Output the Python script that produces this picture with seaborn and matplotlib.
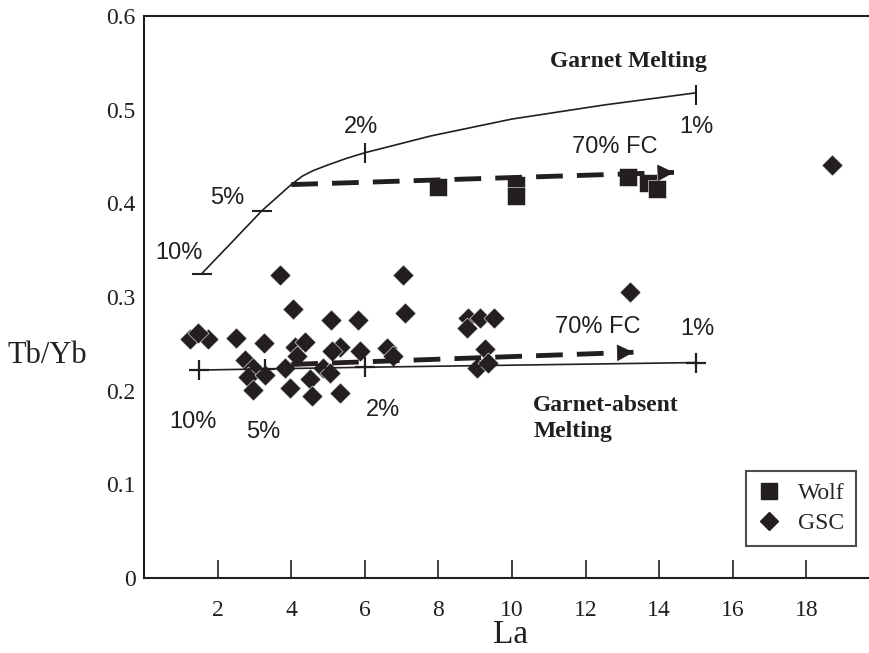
import numpy as np
import pandas as pd
import matplotlib
matplotlib.use("Agg")
import matplotlib.pyplot as plt
from matplotlib.lines import Line2D
import seaborn as sns

# -------- data --------
wolf_la = [8.0, 10.1, 10.1, 13.15, 13.7, 13.95]
wolf_tbyb = [0.417, 0.420, 0.408, 0.428, 0.422, 0.415]

gsc_la = [1.25, 1.74, 1.47, 2.5, 3.26, 3.7, 4.06, 7.04, 7.1, 5.08, 5.82, 4.1, 4.37,
          5.33, 5.1, 5.87, 6.6, 6.77, 2.74, 2.96, 2.83, 3.29, 2.96, 3.83, 4.16, 3.97,
          4.5, 4.56, 4.87, 5.05, 5.33, 8.8, 9.13, 9.5, 8.77, 9.27, 9.05, 9.35, 13.2, 18.7]
gsc_tbyb = [0.255, 0.255, 0.262, 0.256, 0.251, 0.323, 0.287, 0.323, 0.283, 0.275, 0.275,
            0.247, 0.252, 0.247, 0.242, 0.242, 0.246, 0.237, 0.233, 0.224, 0.215, 0.217,
            0.201, 0.224, 0.237, 0.203, 0.212, 0.194, 0.224, 0.219, 0.198, 0.278, 0.278,
            0.278, 0.267, 0.244, 0.224, 0.230, 0.305, 0.441]

# melting curves
garnet_la = [1.57, 2.4, 3.2, 4.0, 4.3, 4.6, 5.0, 5.5, 6.0, 7.8, 10.0, 12.5, 15.0]
garnet_tbyb = [0.325, 0.359, 0.392, 0.420, 0.429, 0.435, 0.441, 0.448, 0.454, 0.472,
               0.490, 0.505, 0.518]
absent_la = [1.5, 6.0, 15.0]
absent_tbyb = [0.222, 0.225, 0.230]

# % melting marks
garnet_pct = ["10%", "5%", "2%", "1%"]
garnet_pct_la = [1.57, 3.2, 6.0, 15.0]
garnet_pct_tbyb = [0.325, 0.392, 0.454, 0.516]
garnet_pct_marker = ["_", "_", "|", "|"]
absent_pct = ["10%", "5%", "2%", "1%"]
absent_pct_la = [1.5, 3.3, 6.0, 15.0]
absent_pct_tbyb = [0.222, 0.223, 0.225, 0.230]

# 70% fractional crystallisation vectors (start, end)
fc_garnet_la = [4.0, 14.4]
fc_garnet_tbyb = [0.420, 0.433]
fc_absent_la = [4.0, 13.3]
fc_absent_tbyb = [0.228, 0.241]

x_ticks = [2, 4, 6, 8, 10, 12, 14, 16, 18]
y_ticks = [0, 0.1, 0.2, 0.3, 0.4, 0.5, 0.6]
# ------------------------------------------

INK = "#231f20"
SERIF = ["Liberation Serif", "DejaVu Serif"]
SANS = ["Liberation Sans", "DejaVu Sans"]

sns.set_style("ticks")
plt.rcParams["font.family"] = SERIF

fig = plt.figure(figsize=(8.69, 6.53), dpi=100)
ax = fig.add_axes([144 / 869, 75 / 653, 1 - 144 / 869, 562 / 653])

# data points
sns.scatterplot(x=gsc_la, y=gsc_tbyb, marker="D", s=115, color=INK,
                edgecolor="white", linewidth=0.4, ax=ax, zorder=3)
sns.scatterplot(x=wolf_la, y=wolf_tbyb, marker="s", s=165, color=INK,
                edgecolor="white", linewidth=0.4, ax=ax, zorder=3)

# melting curves
curves = pd.DataFrame({"La": garnet_la, "TbYb": garnet_tbyb})
sns.lineplot(data=curves, x="La", y="TbYb", sort=False, estimator=None,
             color=INK, lw=1.2, ax=ax, zorder=4)
absent = pd.DataFrame({"La": absent_la, "TbYb": absent_tbyb})
sns.lineplot(data=absent, x="La", y="TbYb", sort=False, estimator=None,
             color=INK, lw=1.2, ax=ax, zorder=4)

for xv, yv, m in zip(garnet_pct_la, garnet_pct_tbyb, garnet_pct_marker):
    ax.plot(xv, yv, marker=m, ms=15, mew=1.5, color=INK, zorder=4)
ax.plot(absent_pct_la, absent_pct_tbyb, ls="none", marker="+", ms=14, mew=1.6,
        color=INK, zorder=4)

# FC vectors: dashed shaft + filled head
for xs, ys in [(fc_garnet_la, fc_garnet_tbyb), (fc_absent_la, fc_absent_tbyb)]:
    ax.plot(xs, ys, color=INK, lw=3.5, ls=(0, (5.5, 2.9)),
            solid_capstyle="butt", dash_capstyle="butt", zorder=5)
    slope = (ys[1] - ys[0]) / (xs[1] - xs[0])
    ax.annotate("", xy=(xs[1], ys[1]), xytext=(xs[1] - 0.4, ys[1] - 0.4 * slope),
                arrowprops=dict(arrowstyle="-|>,head_length=0.55,head_width=0.28",
                                mutation_scale=20, color=INK, lw=0.5,
                                shrinkA=0, shrinkB=0), zorder=5)

# annotations
sans_kw = dict(family=SANS, fontsize=17, color=INK, ha="center", va="center")
ax.text(0.95, 0.347, "10%", **sans_kw)
ax.text(2.25, 0.406, "5%", **sans_kw)
ax.text(5.9, 0.482, "2%", **sans_kw)
ax.text(15.0, 0.481, "1%", **sans_kw)
ax.text(12.8, 0.460, "70% FC", **sans_kw)
ax.text(1.33, 0.167, "10%", **sans_kw)
ax.text(3.25, 0.156, "5%", **sans_kw)
ax.text(6.5, 0.179, "2%", **sans_kw)
ax.text(12.33, 0.268, "70% FC", **sans_kw)
ax.text(15.04, 0.266, "1%", **sans_kw)

ax.text(13.15, 0.551, "Garnet Melting", fontsize=17, fontweight="bold",
        color=INK, ha="center", va="center")
ax.text(10.58, 0.170, "Garnet-absent\nMelting", fontsize=17, fontweight="bold",
        color=INK, ha="left", va="center", linespacing=1.3)

# axes
ax.set_xlim(0, 19.7)
ax.set_ylim(0, 0.6)
ax.set_xticks(x_ticks)
ax.set_xticklabels([str(t) for t in x_ticks])
ax.set_yticks(y_ticks)
ax.set_yticklabels(["0" if t == 0 else f"{t:.1f}" for t in y_ticks])
ax.tick_params(axis="x", direction="in", length=13, width=1.2, pad=16,
               labelsize=17, colors=INK)
ax.tick_params(axis="y", length=0, pad=6, labelsize=17, colors=INK)
for side in ["left", "bottom", "top"]:
    ax.spines[side].set_linewidth(1.5)
    ax.spines[side].set_color(INK)
ax.spines["right"].set_visible(False)
ax.set_xlabel("")
ax.set_ylabel("")

fig.text(47 / 869, 1 - 355 / 653, "Tb/Yb", fontsize=22, color=INK,
         ha="center", va="center")
fig.text(511 / 869, 1 - 635 / 653, "La", fontsize=24, color=INK,
         ha="center", va="center")

handles = [
    Line2D([], [], ls="none", marker="s", ms=11, color=INK, label="Wolf"),
    Line2D([], [], ls="none", marker="D", ms=9, color=INK, label="GSC"),
]
leg = ax.legend(handles=handles, loc="lower right", bbox_to_anchor=(0.982, 0.057),
                borderaxespad=0, fancybox=False, frameon=True, fontsize=17,
                handlelength=1.0, handletextpad=0.7, labelspacing=0.35,
                borderpad=0.5)
leg.get_frame().set_edgecolor(INK)
leg.get_frame().set_linewidth(1.5)

fig.savefig("out.png", dpi=100)
